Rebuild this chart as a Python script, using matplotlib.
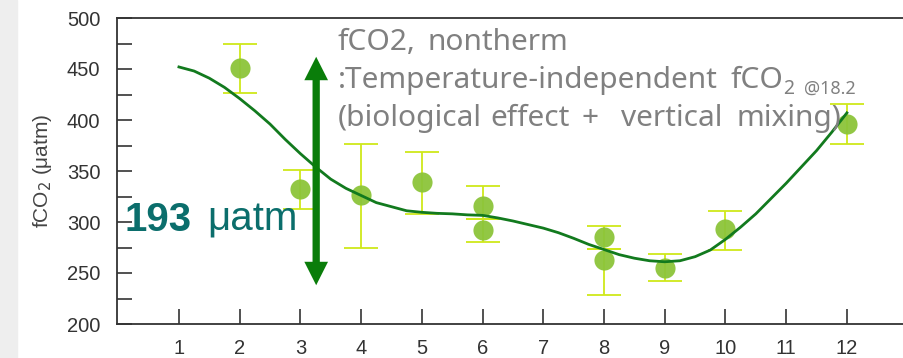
import matplotlib
matplotlib.use('Agg')
from matplotlib import pyplot as plt
from matplotlib.patches import FancyArrow, Rectangle
from matplotlib.ticker import MultipleLocator

# monthly fCO2 (nontherm) observations
months = [2, 3, 4, 5, 6, 6, 8, 8, 9, 10, 12]
fco2 = [451, 332, 326, 339, 316, 292, 285, 263, 255, 293, 396]
err_lo = [25, 19, 51, 31, 13, 12, 11, 35, 13, 20, 20]
err_hi = [24, 19, 50, 30, 19, 11, 11, 11, 14, 18, 20]

# smoothed seasonal fit, read every quarter month
fit_months = [1, 1.25, 1.5, 1.75, 2, 2.25, 2.5, 2.75, 3, 3.25, 3.5, 3.75,
              4, 4.25, 4.5, 4.75, 5, 5.25, 5.5, 5.75, 6, 6.25, 6.5, 6.75,
              7, 7.25, 7.5, 7.75, 8, 8.25, 8.5, 8.75, 9, 9.25, 9.5, 9.75,
              10, 10.25, 10.5, 10.75, 11, 11.25, 11.5, 11.75, 12]
fit_fco2 = [452, 448, 441, 432, 421, 409, 396, 381, 367, 354, 342, 333,
            326, 319, 315, 311, 309.5, 308.5, 308, 307, 306.5, 304, 301, 297.5,
            294, 289.5, 284, 278, 273, 268, 264.5, 262, 261, 262, 266, 272.5,
            283, 295, 308, 323, 338, 354, 370, 388, 407]

month_ticks = list(range(1, 13))
amplitude = 193

fig = plt.figure(figsize=(9.04, 3.58), dpi=100)
fig.patches.append(Rectangle((0, 0), 17 / 904, 1, transform=fig.transFigure,
                             color='#eeeeee', zorder=0))
ax = fig.add_axes([117 / 904, 34 / 358, 1 - 117 / 904, 306 / 358])

ax.errorbar(months, fco2, yerr=[err_lo, err_hi], fmt='none', ecolor='#cfe81a',
            elinewidth=1.3, capsize=12, capthick=1.3, zorder=2)
ax.plot(months, fco2, 'o', color='#8cc43a', markersize=14.5, alpha=0.95,
        markeredgewidth=0, zorder=3)
ax.plot(fit_months, fit_fco2, color='#127a1e', lw=2, zorder=4,
        solid_joinstyle='round')

ax.set_xlim(-0.02, 12.94)
ax.set_ylim(200, 500)
ax.set_xticks(month_ticks)
ax.yaxis.set_major_locator(MultipleLocator(50))
ax.yaxis.set_minor_locator(MultipleLocator(25))
ax.tick_params(axis='both', which='both', direction='in', length=11, width=1.2,
               color='#333333', labelsize=14.5, labelcolor='#333333')
ax.tick_params(axis='y', pad=12)
ax.tick_params(axis='x', pad=11)
for lab in ax.get_xticklabels() + ax.get_yticklabels():
    lab.set_family('Liberation Sans')
for side in ['left', 'bottom', 'top']:
    ax.spines[side].set_color('#333333')
    ax.spines[side].set_linewidth(1.3)
ax.spines['right'].set_visible(False)
ax.set_ylabel('fCO$_2$ (μatm)', fontsize=15, color='#444444',
              family='Liberation Sans', labelpad=9)

# double-headed arrow showing the seasonal drawdown
arr_x, y_top, y_bot = 3.26, 462, 238
y_mid = (y_top + y_bot) / 2
for end in (y_top, y_bot):
    ax.add_patch(FancyArrow(arr_x, y_mid, 0, end - y_mid, width=0.12,
                            head_width=0.39, head_length=23,
                            length_includes_head=True, color='#0a7d0a',
                            lw=0, zorder=5))

ax.text(0.11, 302, str(amplitude), fontsize=29, fontweight='bold',
        color='#0b6e6c', family='Liberation Sans', va='center', zorder=6)
ax.text(1.47, 302, 'μatm', fontsize=29, color='#0b6e6c',
        family='Liberation Sans', va='center', zorder=6)


def note(px, py, s, size=21.5):
    fig.text(px / 904, 1 - py / 358, s, fontsize=size, color='#808080',
             family='Noto Sans', va='baseline', zorder=6)


# justified three-line note, placed word by word
note(338, 50, 'fCO2,')
note(428, 50, 'nontherm')
note(338, 88, ':Temperature-independent')
note(731, 88, 'fCO')
note(783, 94, '2', size=14)
note(804, 94, '@18.2', size=13)
note(338, 126, '(biological')
note(490, 126, 'effect')
note(582, 126, '+')
note(621, 126, 'vertical')
note(737, 126, 'mixing)')

fig.savefig('out.png', dpi=100, facecolor='white')
plt.close()
